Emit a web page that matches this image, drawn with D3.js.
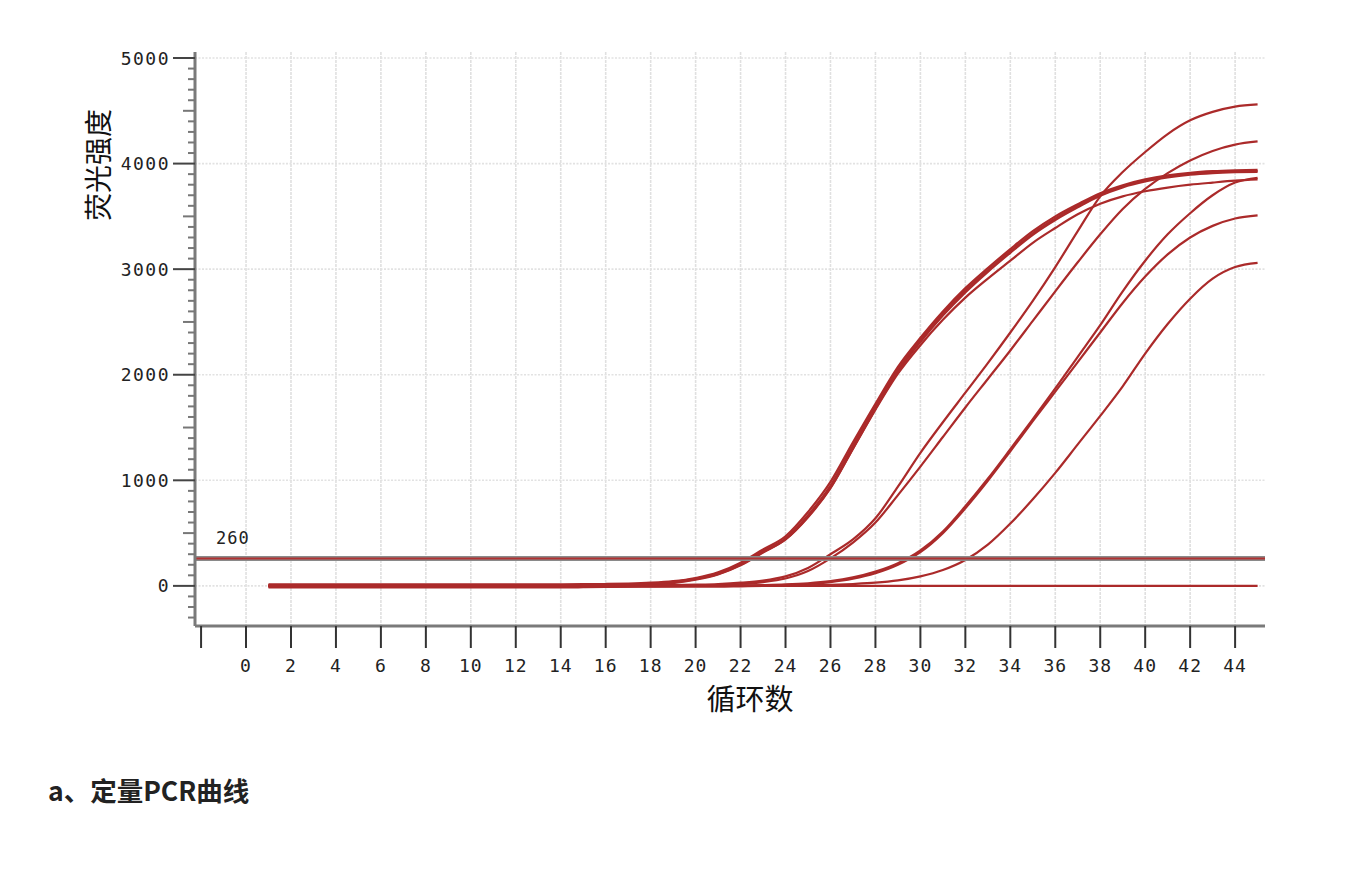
<!DOCTYPE html>
<html>
<head>
<meta charset="utf-8">
<script src="https://cdn.jsdelivr.net/npm/d3@7"></script>
<style>
  html, body { margin: 0; padding: 0; background: #ffffff; }
  svg { display: block; }
</style>
</head>
<body>
<svg id="chart" width="1372" height="869"></svg>
<script>
// ---------------- DATA ----------------
const cycles = [1,2,3,4,5,6,7,8,9,10,11,12,13,14,15,16,17,18,19,20,21,22,23,24,25,26,27,28,29,30,31,32,33,34,35,36,37,38,39,40,41,42,43,44,45];

// Bundle of early samples (thick group)
const sampleA1 = [0,0,0,0,0,0,0,0,0,0,0,0,0,0,2,5,10,20,38,70,120,210,330,450,670,950,1330,1700,2050,2330,2580,2800,2990,3170,3340,3480,3600,3710,3785,3840,3878,3903,3918,3926,3930];
const sampleA2 = [15,15,15,15,15,15,15,15,15,15,15,15,15,15,16,18,22,30,45,75,128,220,345,470,700,985,1360,1725,2075,2350,2600,2820,3010,3190,3360,3500,3615,3720,3795,3850,3888,3913,3928,3936,3940];
const sampleA3 = [-15,-15,-15,-15,-15,-15,-15,-15,-15,-15,-15,-15,-15,-15,-13,-10,-5,5,25,58,108,195,315,440,650,925,1300,1675,2030,2310,2560,2780,2975,3155,3325,3465,3585,3695,3775,3830,3868,3895,3910,3918,3922];
const sampleA4 = [5,5,5,5,5,5,5,5,5,5,5,5,5,5,6,8,12,20,35,64,112,200,320,440,655,930,1300,1670,2010,2280,2520,2730,2910,3080,3250,3390,3520,3620,3690,3738,3773,3800,3820,3838,3850];
// Second dilution
const sampleB1 = [5,5,5,5,5,5,5,5,5,5,5,5,5,5,5,5,5,6,8,12,18,30,50,90,170,300,440,640,940,1260,1550,1830,2110,2400,2700,3020,3360,3690,3920,4110,4280,4410,4490,4540,4560];
const sampleB2 = [-5,-5,-5,-5,-5,-5,-5,-5,-5,-5,-5,-5,-5,-5,-5,-5,-5,-4,-2,2,8,18,36,70,140,260,410,600,860,1130,1410,1690,1960,2230,2510,2790,3065,3330,3570,3760,3910,4030,4120,4180,4210];
// Third dilution
const sampleC1 = [0,0,0,0,0,0,0,0,0,0,0,0,0,0,0,0,0,0,0,0,0,4,8,14,25,45,80,135,215,335,515,755,1015,1295,1580,1870,2170,2470,2790,3080,3330,3530,3700,3820,3865];
const sampleC2 = [-8,-8,-8,-8,-8,-8,-8,-8,-8,-8,-8,-8,-8,-8,-8,-8,-8,-8,-8,-8,-8,-4,0,8,18,36,68,120,200,320,500,735,995,1275,1560,1840,2120,2400,2680,2930,3140,3300,3410,3480,3510];
// Fourth dilution
const sampleD1 = [0,0,0,0,0,0,0,0,0,0,0,0,0,0,0,0,0,0,0,0,0,0,0,2,5,10,18,30,52,90,150,245,390,590,820,1070,1340,1610,1890,2200,2480,2720,2910,3020,3060];
// Negative control
const negative = [0,0,0,0,0,0,0,0,0,0,0,0,0,0,0,0,0,0,0,0,0,0,0,0,0,0,0,0,0,0,0,0,0,0,0,0,0,0,0,0,0,0,0,0,0];

const seriesList = [negative, sampleD1, sampleC2, sampleC1, sampleB2, sampleB1, sampleA4, sampleA3, sampleA2, sampleA1];

const threshold = 260;
const xTickValues = [-2,0,2,4,6,8,10,12,14,16,18,20,22,24,26,28,30,32,34,36,38,40,42,44];
const xTickLabels = ["","0","2","4","6","8","10","12","14","16","18","20","22","24","26","28","30","32","34","36","38","40","42","44"];
const yTickValues = [0,1000,2000,3000,4000,5000];
const yTickLabels = ["0","1000","2000","3000","4000","5000"];
const xAxisTitle = "循环数";
const yAxisTitle = "荧光强度";
const caption = "a、定量PCR曲线";

// ---------------- DRAW ----------------
const svg = d3.select("#chart");
const plotLeft = 195, plotRight = 1265, plotTop = 52, plotBottom = 626;

const x = d3.scaleLinear().domain([-2.27, 45.33]).range([plotLeft, plotRight]);
const y = d3.scaleLinear().domain([-380, 5057]).range([plotBottom, plotTop]);

const tickFont = "'DejaVu Sans Mono', 'Liberation Mono', monospace";
const cjkFont = "'Noto Sans CJK SC', 'Noto Sans', sans-serif";

// grid
const grid = svg.append("g");
grid.selectAll("line.vg").data(xTickValues.filter(v => v >= 0)).enter().append("line")
  .attr("x1", d => x(d)).attr("x2", d => x(d))
  .attr("y1", plotTop).attr("y2", plotBottom)
  .attr("stroke", "#e0e0e0").attr("stroke-width", 1.6).attr("stroke-dasharray", "3,1");
grid.selectAll("line.hg").data(yTickValues).enter().append("line")
  .attr("x1", plotLeft).attr("x2", plotRight)
  .attr("y1", d => y(d)).attr("y2", d => y(d))
  .attr("stroke", "#e2e2e2").attr("stroke-width", 1.6).attr("stroke-dasharray", "2,1.5");

// curves
const line = d3.line()
  .x((d, i) => x(cycles[i]))
  .y(d => y(d))
  .curve(d3.curveMonotoneX);

svg.append("g").selectAll("path").data(seriesList).enter().append("path")
  .attr("d", d => line(d))
  .attr("fill", "none")
  .attr("stroke", "#ab2a2a")
  .attr("stroke-width", 2.2)
  .attr("stroke-linejoin", "round")
  .attr("stroke-linecap", "butt");

// threshold line
svg.append("line")
  .attr("x1", plotLeft).attr("x2", plotRight)
  .attr("y1", y(threshold)).attr("y2", y(threshold))
  .attr("stroke", "#8a8a8a").attr("stroke-width", 5);
svg.append("line")
  .attr("x1", plotLeft).attr("x2", plotRight)
  .attr("y1", y(threshold)).attr("y2", y(threshold))
  .attr("stroke", "#b03232").attr("stroke-width", 2);
svg.append("text")
  .attr("x", 216).attr("y", 544)
  .attr("font-family", tickFont).attr("font-size", 17).attr("letter-spacing", 1)
  .attr("fill", "#222")
  .text(String(threshold));

// y axis
const yAxisG = svg.append("g");
yAxisG.append("line")
  .attr("x1", plotLeft).attr("x2", plotLeft).attr("y1", plotTop).attr("y2", plotBottom)
  .attr("stroke", "#7a7a7a").attr("stroke-width", 3);
const minorTicks = d3.range(-300, 5001, 100);
yAxisG.selectAll("line.t").data(minorTicks).enter().append("line")
  .attr("x1", d => d % 1000 === 0 ? 173 : (d % 500 === 0 ? 183 : 188))
  .attr("x2", plotLeft)
  .attr("y1", d => y(d)).attr("y2", d => y(d))
  .attr("stroke", d => d % 1000 === 0 ? "#444" : "#777")
  .attr("stroke-width", 2);
yAxisG.selectAll("text").data(yTickValues).enter().append("text")
  .attr("x", 170).attr("y", d => y(d))
  .attr("text-anchor", "end").attr("dominant-baseline", "central")
  .attr("font-family", tickFont).attr("font-size", 18).attr("letter-spacing", 1.5)
  .attr("fill", "#222")
  .text((d, i) => yTickLabels[i]);

// x axis
const xAxisG = svg.append("g");
xAxisG.append("line")
  .attr("x1", plotLeft).attr("x2", plotRight).attr("y1", plotBottom).attr("y2", plotBottom)
  .attr("stroke", "#7a7a7a").attr("stroke-width", 3);
xAxisG.selectAll("line.t").data(xTickValues).enter().append("line")
  .attr("x1", d => x(d)).attr("x2", d => x(d))
  .attr("y1", plotBottom).attr("y2", 648)
  .attr("stroke", "#333").attr("stroke-width", 2);
xAxisG.selectAll("text").data(xTickValues).enter().append("text")
  .attr("x", d => x(d)).attr("y", 672)
  .attr("text-anchor", "middle")
  .attr("font-family", tickFont).attr("font-size", 18).attr("letter-spacing", 1)
  .attr("fill", "#222")
  .text((d, i) => xTickLabels[i]);

// axis titles
svg.append("text")
  .attr("x", 750).attr("y", 697)
  .attr("text-anchor", "middle").attr("dominant-baseline", "central")
  .attr("font-family", cjkFont).attr("font-size", 29).attr("fill", "#111")
  .text(xAxisTitle);
svg.append("text")
  .attr("transform", "translate(97,165) rotate(-90)")
  .attr("text-anchor", "middle").attr("dominant-baseline", "central")
  .attr("font-family", cjkFont).attr("font-size", 28).attr("fill", "#111")
  .text(yAxisTitle);

// caption
svg.append("text")
  .attr("x", 48).attr("y", 801)
  .attr("font-family", cjkFont).attr("font-size", 26.5).attr("font-weight", 700)
  .attr("fill", "#222")
  .text(caption);
</script>
</body>
</html>
